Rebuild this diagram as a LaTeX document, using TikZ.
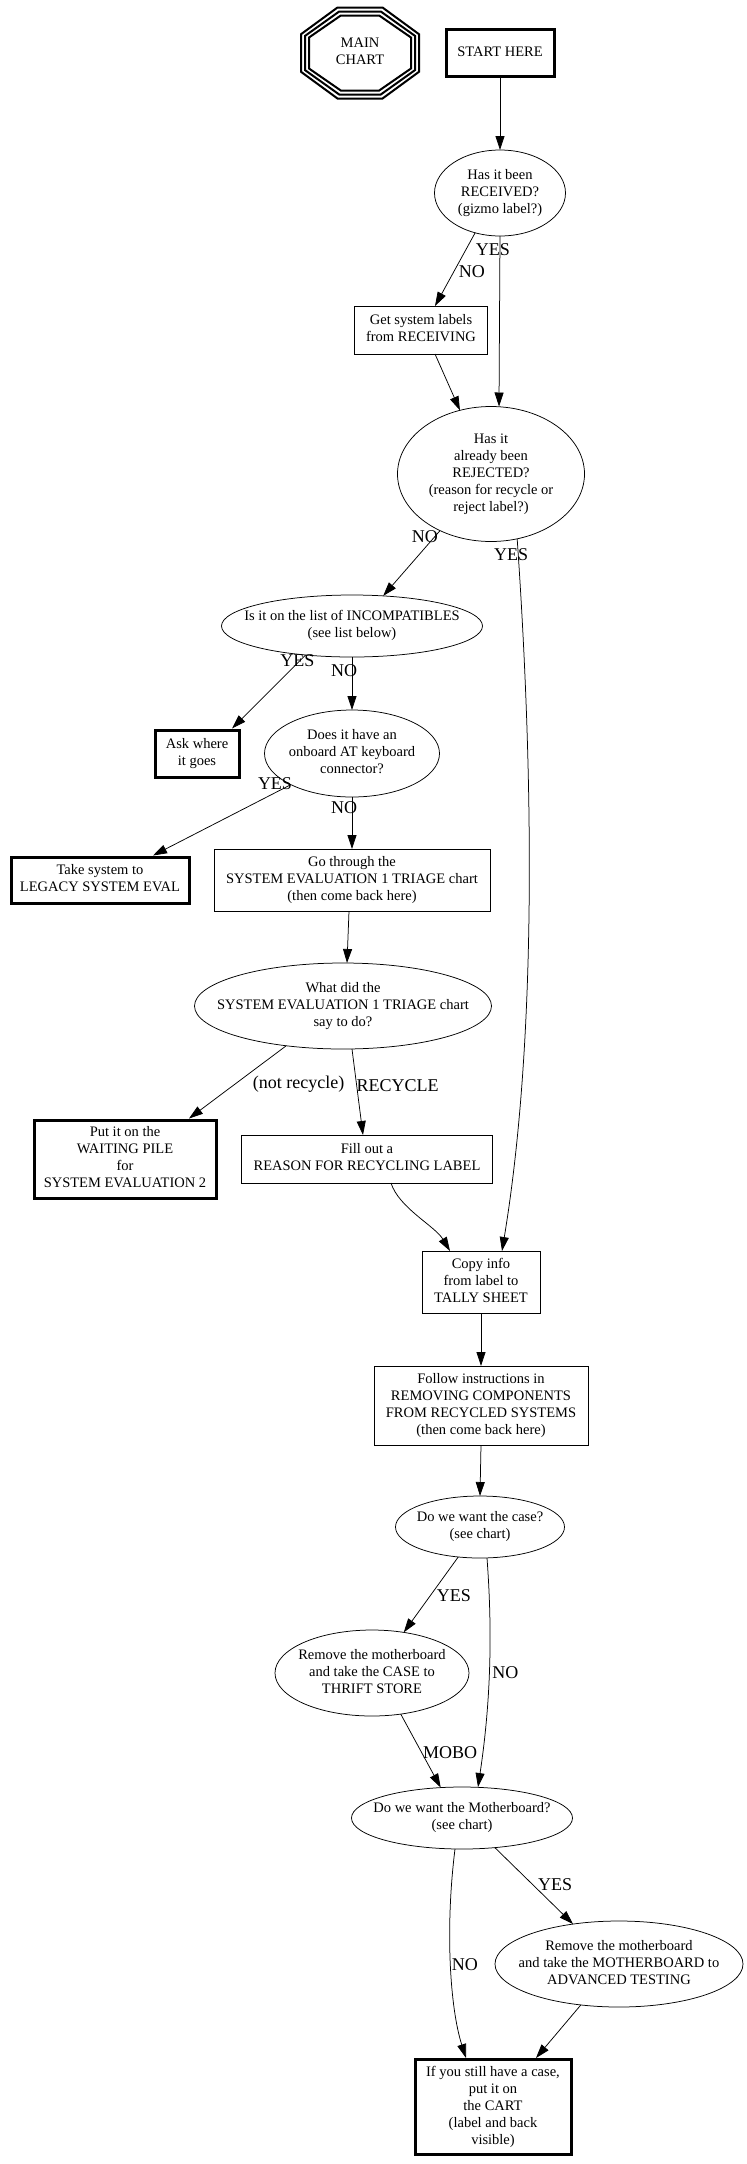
\documentclass[tikz,border=0pt]{standalone}
\usepackage{fontspec}
\setmainfont{Liberation Serif}
\usetikzlibrary{shapes,positioning,arrows.meta,calc}
\newcommand{\ntext}[1]{\hbox to 0pt{\hss\begin{tabular}{@{}c@{}}#1\end{tabular}\hss}}

\begin{document}
\begin{tikzpicture}[x=1pt, y=1pt, line width=0.75pt,
	every node/.style={font=\fontsize{14.5}{17}\selectfont, inner sep=0pt, outer sep=0pt},
	sz/.style 2 args={minimum width=#1pt, minimum height=#2pt},
	box/.style={draw, rectangle},
	heavy/.style={draw, rectangle, line width=3pt, outer sep=1.5pt},
	oval/.style={draw, ellipse},
	lbl/.style={font=\fontsize{18}{21}\selectfont, inner sep=0pt},
	arr/.style={-{Triangle[length=14pt, width=9pt]}}]
	\useasboundingbox (0,0) rectangle (747,-2164);

	\node[sz={120}{93}] (main) at (360,-53) {\ntext{MAIN\\CHART}};
	\node[heavy, sz={108}{47}, right=24.5pt of main] (start) {\ntext{START HERE}};
	\node[oval, sz={131}{86}, below=72pt of start] (rec) {\ntext{Has it been\\RECEIVED?\\(gizmo label?)}};
	\node[box, sz={133}{48}, below=70pt of rec, xshift=-79pt] (get) {\ntext{Get system labels\\from RECEIVING}};
	\node[oval, sz={187}{135}, below=52.5pt of get, xshift=70pt] (rej) {\ntext{Has it\\already been\\REJECTED?\\(reason for recycle or\\reject label?)}};
	\node[oval, sz={261}{62}, below=53.5pt of rej, xshift=-139pt] (inc) {\ntext{Is it on the list of INCOMPATIBLES\\(see list below)}};
	\node[oval, sz={175}{87}, below=53pt of inc] (kbd) {\ntext{Does it have an\\onboard AT keyboard\\connector?}};
	\node[heavy, sz={84}{47}, left=24pt of kbd] (ask) {\ntext{Ask where\\it goes}};
	\node[box, sz={276}{62}, below=52pt of kbd] (se1) {\ntext{Go through the\\SYSTEM EVALUATION 1 TRIAGE chart\\(then come back here)}};
	\node[heavy, sz={178}{46}, left=23.5pt of se1] (legacy) {\ntext{Take system to\\LEGACY SYSTEM EVAL}};
	\node[oval, sz={297}{86}, below=52pt of se1, xshift=-9pt] (what) {\ntext{What did the\\SYSTEM EVALUATION 1 TRIAGE chart\\say to do?}};
	\node[box, sz={251}{48}, below=86pt of what, xshift=24pt] (fill) {\ntext{Fill out a\\REASON FOR RECYCLING LABEL}};
	\node[heavy, sz={182}{78}, left=24pt of fill] (wait) {\ntext{Put it on the\\WAITING PILE\\for\\SYSTEM EVALUATION 2}};
	\node[box, sz={118}{62}, below=68pt of fill, xshift=114pt] (copy) {\ntext{Copy info\\from label to\\TALLY SHEET}};
	\node[box, sz={214}{79}, below=53pt of copy] (follow) {\ntext{Follow instructions in\\REMOVING COMPONENTS\\FROM RECYCLED SYSTEMS\\(then come back here)}};
	\node[oval, sz={169}{62}, below=51pt of follow, xshift=-1pt] (case) {\ntext{Do we want the case?\\(see chart)}};
	\node[oval, sz={194}{86}, below=72pt of case, xshift=-108pt] (thrift) {\ntext{Remove the motherboard\\and take the CASE to\\THRIFT STORE}};
	\node[oval, sz={221}{62}, below=71pt of thrift, xshift=90pt] (mobo) {\ntext{Do we want the Motherboard?\\(see chart)}};
	\node[oval, sz={248}{86}, below=72pt of mobo, xshift=157pt] (adv) {\ntext{Remove the motherboard\\and take the MOTHERBOARD to\\ADVANCED TESTING}};
	\node[heavy, sz={156}{95}, below=51pt of adv, xshift=-126pt] (cart) {\ntext{If you still have a case,\\put it on\\the CART\\(label and back\\visible)}};

	% triple octagon round the chart name
	\foreach \a/\b/\t/\s in {59/45.5/22.5/18.8, 55/41.5/20.8/17.1, 51/37.5/19.2/15.5}
		\draw[line width=2pt] ($(main)+(-\t,\b)$) -- ($(main)+(\t,\b)$) -- ($(main)+(\a,\s)$) -- ($(main)+(\a,-\s)$)
			-- ($(main)+(\t,-\b)$) -- ($(main)+(-\t,-\b)$) -- ($(main)+(-\a,-\s)$) -- ($(main)+(-\a,\s)$) -- cycle;

	\draw[arr] (start.south) -- (rec.north);
	\draw[arr] (rec.-122) -- node[lbl, pos=0.53, xshift=18pt] {NO} ([xshift=14pt]get.north);
	\draw[arr] (rec.south) -- node[lbl, pos=0.08, xshift=-7pt] {YES} ([xshift=8pt]rej.north);
	\draw[arr] ([xshift=14pt]get.south) -- (rej.116);

	\draw[arr] (rej.228) -- node[lbl, pos=0.09, xshift=-10pt] {NO} (inc.44);
	\draw[arr] (rej.-68) .. controls +(18,-260) and +(33,200) .. node[lbl, pos=0.02, xshift=-7pt] {YES} ([xshift=21pt]copy.north);

	\draw[arr] (inc.212) -- node[lbl, pos=0.07, xshift=-3pt] {YES} ([xshift=35pt]ask.north);
	\draw[arr] (inc.south) -- node[lbl, pos=0.26, xshift=-8pt] {NO} (kbd.north);

	\draw[arr] (kbd.207) -- node[lbl, pos=0.05, xshift=-9pt, yshift=5pt] {YES} ([xshift=53pt]legacy.north);
	\draw[arr] (kbd.south) -- node[lbl, pos=0.21, xshift=-8pt] {NO} (se1.north);

	\draw[arr] ([xshift=-3pt]se1.south) -- ([xshift=4pt]what.north);
	\draw[arr] (what.215) -- node[lbl, pos=0.53, xshift=64pt] {(not recycle)} ([xshift=64pt]wait.north);
	\draw[arr] ([xshift=9pt]what.south) -- node[lbl, pos=0.42, xshift=41pt] {RECYCLE} ([xshift=-4pt]fill.north);

	\draw[arr] ([xshift=24pt]fill.south) .. controls +(8,-25) and +(-15,25) .. ([xshift=-31pt]copy.north);
	\draw[arr] (copy.south) -- (follow.north);
	\draw[arr] (follow.south) -- (case.north);

	\draw[arr] (case.234) -- node[lbl, pos=0.51, xshift=23.5pt] {YES} (thrift.52);
	\draw[arr] ([xshift=7pt]case.south) .. controls +(6,-80) and +(12,80) .. node[lbl, pos=0.5, xshift=16pt] {NO} ([xshift=16pt]mobo.north);
	\draw[arr] (thrift.-55) -- node[lbl, pos=0.52, xshift=28.5pt] {MOBO} (mobo.125);

	\draw[arr] (mobo.-42) -- node[lbl, pos=0.49, xshift=22pt] {YES} (adv.139);
	\draw[arr] ([xshift=-7pt]mobo.south) .. controls +(-10,-80) and +(-16,50) .. node[lbl, pos=0.5, xshift=14pt] {NO} ([xshift=-27pt]cart.north);
	\draw[arr] (adv.227) -- ([xshift=43pt]cart.north);
\end{tikzpicture}
\end{document}
